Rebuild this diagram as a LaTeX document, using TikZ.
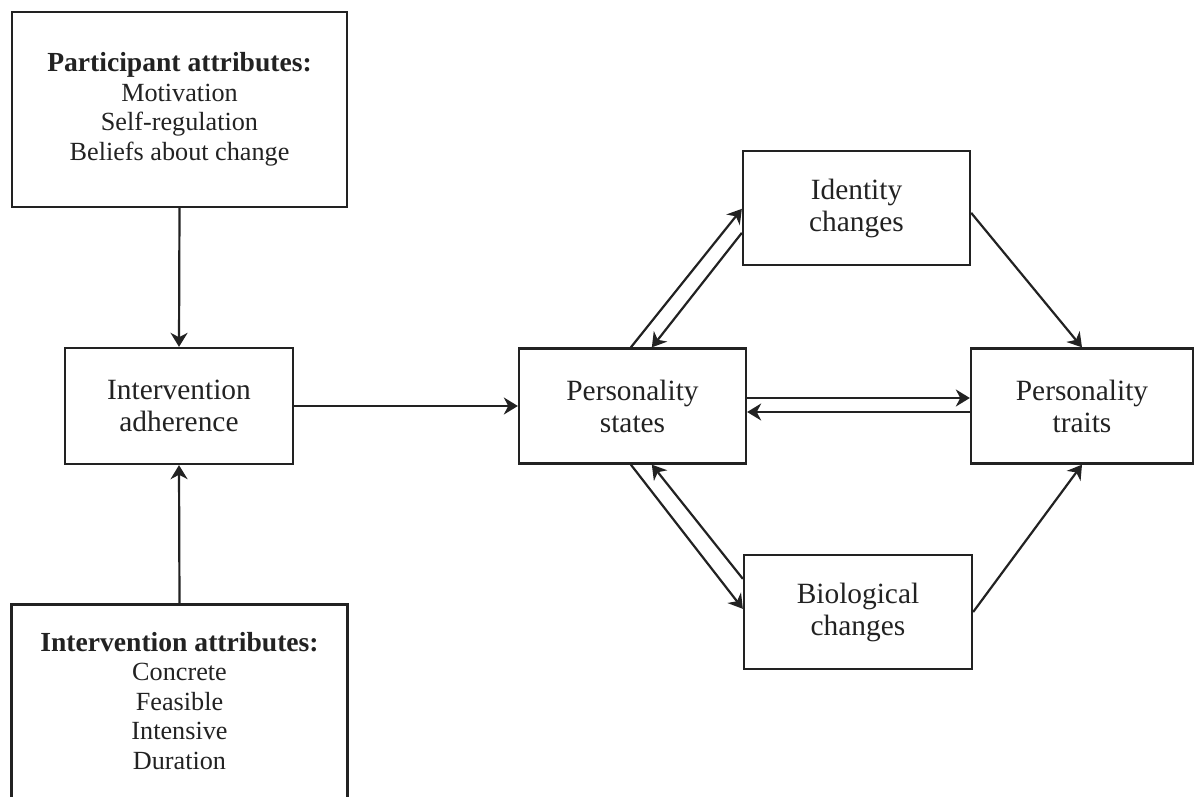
\documentclass[tikz,border=0pt]{standalone}
\usepackage{fontspec}
\setmainfont{Liberation Serif}
\usetikzlibrary{arrows.meta,calc}
\definecolor{ink}{HTML}{222222}
\tikzset{
  x=0.5pt, y=-0.5pt,
  box/.style={draw=ink, line width=1.15pt, inner sep=0pt, align=center, text=ink,
    font=\fontsize{14.7}{16}\selectfont},
  attrbox/.style={inner sep=0pt, align=center, text=ink,
    font=\fontsize{13.1}{14.75}\selectfont},
  conn/.style={draw=ink, line width=1.1pt,
    -{Stealth[length=7pt,width=8.5pt,inset=2.2pt]}},
}
\newcommand{\attrtitle}[1]{{\fontsize{13.8}{14.75}\selectfont\bfseries #1}}
\begin{document}
\begin{tikzpicture}
\useasboundingbox (0,0) rectangle (1194,797);

% attribute boxes
\node[attrbox, draw=ink, line width=1.15pt, minimum width=167.5pt, minimum height=97.5pt]
  (part) at (179.5,109.5)
  {\attrtitle{Participant attributes:}\\Motivation\\Self-regulation\\Beliefs about change};
\node[attrbox, minimum width=167.5pt, minimum height=96pt]
  (iattr) at (179.5,701)
  {\attrtitle{Intervention attributes:}\\Concrete\\Feasible\\Intensive\\Duration};
\draw[ink, line width=1.15pt] (iattr.south west) -- (iattr.north west) -- (iattr.north east) -- (iattr.south east);

% main boxes
\node[box, minimum width=114pt, minimum height=58pt] (adh) at (179,406) {Intervention\\adherence};
\node[box, minimum width=113.5pt, minimum height=57.5pt] (states) at (632.5,406) {Personality\\states};
\node[box, minimum width=113.5pt, minimum height=57pt] (ident) at (856.5,208) {Identity\\changes};
\node[box, minimum width=114pt, minimum height=57pt] (bio) at (858,612) {Biological\\changes};
\node[box, minimum width=111pt, minimum height=57.5pt] (traits) at (1082,406) {Personality\\traits};

% connectors
\draw[conn] (part.south) -- (adh.north);
\draw[conn] (iattr.north) -- (adh.south);
\draw[conn] (adh.east) -- (states.west);

\draw[conn] ($(states.east)+(0,-8)$) -- ($(traits.west)+(0,-8)$);
\draw[conn] ($(traits.west)+(0,6)$) -- ($(states.east)+(0,6)$);

\draw[conn] ($(states.north west)+(113,0)$) -- ($(ident.north west)+(0,59)$);
\draw[conn] ($(ident.north west)+(0,83)$) -- ($(states.north west)+(134,0)$);

\draw[conn] ($(states.south west)+(113,0)$) -- ($(bio.north west)+(0,55)$);
\draw[conn] ($(bio.north west)+(0,25)$) -- ($(states.south west)+(134,0)$);

\draw[conn] ($(ident.north east)+(0,63)$) -- (traits.north);
\draw[conn] (bio.east) -- (traits.south);
\end{tikzpicture}
\end{document}
